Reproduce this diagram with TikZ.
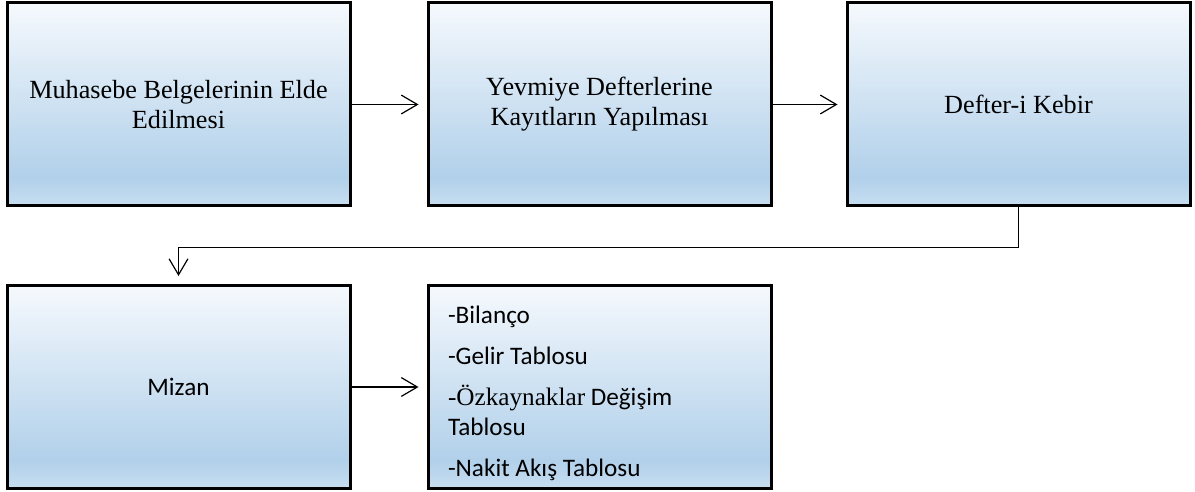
\documentclass[tikz,border=0pt]{standalone}
\usepackage{fontspec}
\setmainfont{Liberation Serif}
\newfontfamily\calibri{Carlito}
\usetikzlibrary{arrows.meta,positioning}

\definecolor{boxtop}{HTML}{F5F9FD}
\definecolor{boxdark}{HTML}{B1D0EA}
\definecolor{boxbottom}{HTML}{C7DEF1}
% 25bp = bottom edge, 75bp = top edge of the node
\pgfdeclareverticalshading{boxfill}{100bp}{%
  color(0bp)=(boxbottom); color(25bp)=(boxbottom);
  color(32bp)=(boxdark); color(75bp)=(boxtop); color(100bp)=(boxtop)}

\begin{document}
\begin{tikzpicture}[
    x=0.5pt, y=-0.5pt,
    box/.style={
        rectangle,
        draw=black, line width=1.5pt,
        shading=boxfill,
        text=black,
        font=\fontsize{13.1pt}{15pt}\selectfont,
        align=center,
        minimum width=171.5pt,
        minimum height=101.5pt,
        inner sep=6pt,
    },
    calibribox/.style={
        box, font=\calibri\fontsize{12.6pt}{15pt}\selectfont,
    },
    arrow/.style={
        -{Straight Barb[length=8pt,width=9.4pt]}, line width=0.6pt, black,
        shorten >=4pt,
    },
]
\useasboundingbox (0,0) rectangle (1195,492);

% top row
\node[box] (belge) at (178.5,104.5) {Muhasebe Belgelerinin Elde\\Edilmesi};
\node[box] (yevmiye) at (599.5,104.5) {Yevmiye Defterlerine\\Kayıtların Yapılması};
\node[box] (kebir) at (1018.5,104.5) {Defter-i Kebir};

% bottom row
\node[calibribox] (mizan) at (178.5,387) {Mizan};
\node[calibribox, align=flush left, text width=151.5pt, inner xsep=10pt,
      inner ysep=0pt] (tablolar) at (599.5,387)
    {\rule{0pt}{15pt}-Bilanço\\[5.5pt]
     -Gelir Tablosu\\[5.5pt]
     {\rmfamily -Özkaynaklar} Değişim\\
     Tablosu\\[5.5pt]
     -Nakit Akış Tablosu};

% arrows
\draw[arrow] (belge) -- (yevmiye);
\draw[arrow] (yevmiye) -- (kebir);
\draw[arrow] (kebir.south) -- ++(0,40) -| (mizan.north);
\draw[arrow] (mizan) -- (tablolar);

\end{tikzpicture}
\end{document}
